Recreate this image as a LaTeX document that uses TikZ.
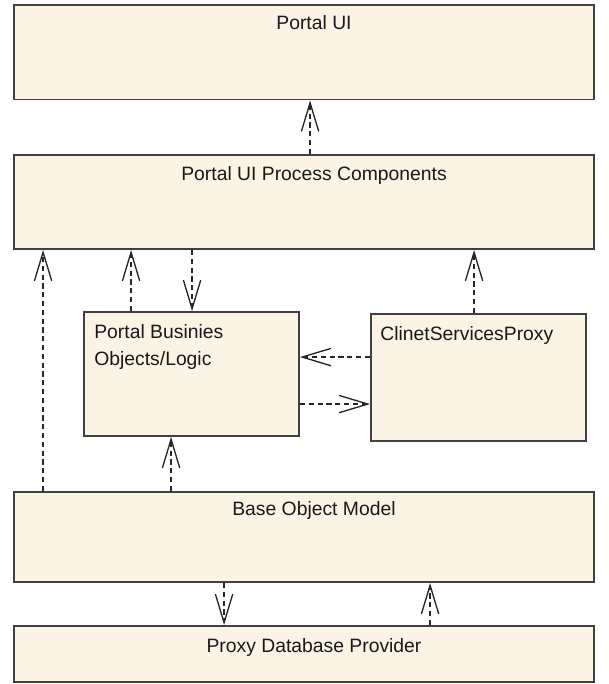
\documentclass[tikz,border=0pt]{standalone}
\usepackage{fontspec}
\setmainfont{Liberation Sans}
\usepackage{tikz}
\usetikzlibrary{arrows.meta,calc,positioning}
\definecolor{boxfill}{RGB}{251,243,227}
\definecolor{boxline}{RGB}{64,64,64}
\tikzstyle{layer}=[rectangle,draw=boxline,fill=boxfill,line width=1.4pt,inner sep=0pt]
\tikzstyle{ttl}=[font=\fontsize{14.5}{20}\selectfont,text=black!90,inner sep=0pt]
\tikzstyle{dep}=[draw=black!85,line width=1pt,dash pattern=on 4pt off 2.6pt,
                 -{Straight Barb[length=21.5pt,width=13pt]}]

\begin{document}
\begin{tikzpicture}[x=0.75pt,y=-0.75pt]

% % % % % % % % % % % % % % %

\useasboundingbox (0,0) rectangle (608,684);

\node[layer,minimum width=435pt,minimum height=70.9pt,
      label={[ttl,anchor=base,xshift=7.5pt,yshift=-18.75pt]north:Portal UI}]
      (pui) at (304,52.25) {};
\node[layer,minimum width=435pt,minimum height=70.5pt,
      label={[ttl,anchor=base,xshift=7.5pt,yshift=-19.5pt]north:Portal UI Process Components}]
      (puipc) at (304,202) {};
\node[layer,minimum width=161.25pt,minimum height=93pt,
      label={[ttl,anchor=north west,align=left,xshift=8.25pt,yshift=-9.75pt]north west:Portal Businies\\Objects/Logic}]
      (pbl) at (191.5,374) {};
\node[layer,minimum width=161.25pt,minimum height=95.25pt,
      label={[ttl,anchor=north west,xshift=7.5pt,yshift=-9.5pt]north west:ClinetServicesProxy}]
      (csp) at (478.5,377.5) {};
\node[layer,minimum width=435pt,minimum height=67.5pt,
      label={[ttl,anchor=base,xshift=7.5pt,yshift=-18.5pt]north:Base Object Model}]
      (bom) at (304,537) {};
\node[layer,minimum width=435pt,minimum height=42pt,
      label={[ttl,anchor=base,xshift=7.5pt,yshift=-20.25pt]north:Proxy Database Provider}]
      (pdp) at (304,654) {};

% dependencies
\draw[dep] ($(puipc.north west)+(297,0)$) -- ($(pui.south west)+(297,0)$);
\draw[dep] ($(bom.north west)+(30,0)$) -- ($(puipc.south west)+(30,0)$);
\draw[dep] ($(pbl.north west)+(48,0)$) -- ($(puipc.south west)+(118,0)$);
\draw[dep] ($(puipc.south west)+(179,0)$) -- ($(pbl.north west)+(109,0)$);
\draw[dep] ($(csp.north west)+(104,0)$) -- ($(puipc.south west)+(461,0)$);
\draw[dep] ($(csp.north west)+(0,44)$) -- ($(pbl.north east)+(0,46)$);
\draw[dep] ($(pbl.north east)+(0,93)$) -- ($(csp.north west)+(0,91)$);
\draw[dep] ($(bom.north west)+(158,0)$) -- ($(pbl.south west)+(88,0)$);
\draw[dep] ($(bom.south west)+(211,0)$) -- ($(pdp.north west)+(211,0)$);
\draw[dep] ($(pdp.north west)+(417,0)$) -- ($(bom.south west)+(417,0)$);

\end{tikzpicture}
\end{document}
